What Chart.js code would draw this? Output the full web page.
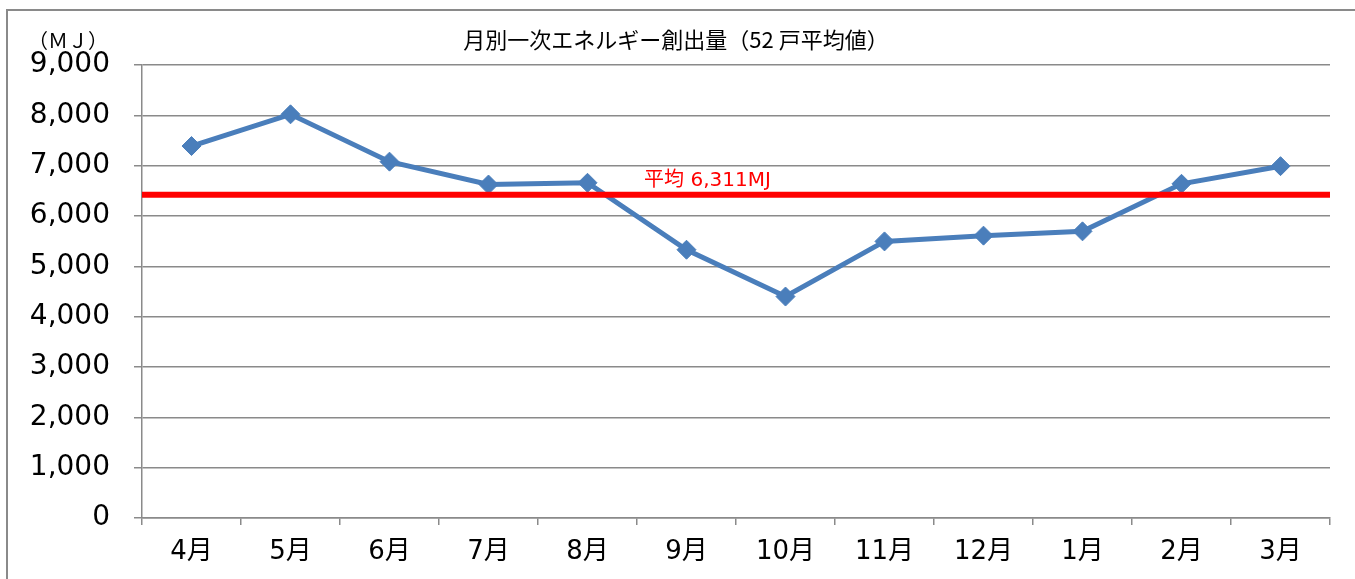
<!DOCTYPE html>
<html lang="ja">
<head>
<meta charset="utf-8">
<title>月別一次エネルギー創出量</title>
<script src="https://cdn.jsdelivr.net/npm/chart.js@4.4.1/dist/chart.umd.min.js"></script>
<style>
  html, body { margin: 0; padding: 0; background: #fff; }
  #wrap { position: relative; width: 1355px; height: 579px; }
</style>
</head>
<body>
<div id="wrap"><canvas id="energy-chart"></canvas></div>
<script>
// --- DATA ---
const months = ['4月', '5月', '6月', '7月', '8月', '9月', '10月', '11月', '12月', '1月', '2月', '3月'];
const energyValues = [7390, 8020, 7080, 6625, 6660, 5330, 4400, 5495, 5610, 5695, 6640, 6990];
const yTicks = [0, 1000, 2000, 3000, 4000, 5000, 6000, 7000, 8000, 9000];
const averageLineValue = 6420;
const averageLabel = '平均 6,311MJ';
const chartTitle = '月別一次エネルギー創出量（52 戸平均値）';
const unitLabel = '（ＭＪ）';

// --- STYLE ---
const blue = '#4A7EBB';
const gray = '#8a8a8a';
const jpFont = '"DejaVu Sans", "Noto Sans CJK JP", sans-serif';

// frame, title, unit and the average line
const decorPlugin = {
    id: 'decor',
    beforeDraw(chart) {
        const ctx = chart.ctx;
        ctx.save();
        ctx.strokeStyle = gray;
        ctx.lineWidth = 2;
        ctx.strokeRect(7, 10, 1400, 620);
        ctx.restore();
    },
    afterDatasetsDraw(chart) {
        const ctx = chart.ctx;
        const area = chart.chartArea;
        const y = chart.scales.y.getPixelForValue(averageLineValue);
        ctx.save();
        ctx.strokeStyle = '#FF0000';
        ctx.lineWidth = 6;
        ctx.beginPath();
        ctx.moveTo(area.left, y);
        ctx.lineTo(area.right, y);
        ctx.stroke();

        ctx.fillStyle = '#FF0000';
        ctx.font = '20px ' + jpFont;
        ctx.textAlign = 'center';
        ctx.textBaseline = 'middle';
        ctx.fillText(averageLabel, area.left + area.width * 0.476, y - 14);

        ctx.fillStyle = '#000';
        ctx.font = '22px "Noto Sans CJK JP", sans-serif';
        ctx.fillText(chartTitle, 676, 40);
        ctx.font = '20px "Noto Sans CJK JP", sans-serif';
        ctx.fillText(unitLabel, 68, 40);
        ctx.restore();
    }
};

const ctx = document.getElementById('energy-chart').getContext('2d');
const energyChart = new Chart(ctx, {
    type: 'line',
    data: {
        labels: months,
        datasets: [{
            data: energyValues,
            borderColor: blue,
            backgroundColor: blue,
            borderWidth: 5,
            tension: 0,
            pointStyle: 'rectRot',
            pointRadius: 9.5,
            pointHoverRadius: 9.5,
            pointBorderWidth: 1,
            pointBackgroundColor: blue,
            pointBorderColor: blue
        }]
    },
    options: {
        responsive: true,
        maintainAspectRatio: false,
        animation: false,
        layout: { padding: { top: 65, right: 25, left: 0, bottom: 0 } },
        plugins: {
            legend: { display: false },
            tooltip: { enabled: false },
            title: { display: false }
        },
        scales: {
            x: {
                offset: true,
                grid: {
                    offset: true,
                    drawOnChartArea: false,
                    drawTicks: true,
                    tickLength: 7,
                    color: gray,
                    lineWidth: 1.5
                },
                border: { color: gray, width: 1.5 },
                ticks: {
                    color: '#000',
                    font: { size: 26, family: jpFont },
                    padding: 12,
                    maxRotation: 0,
                    autoSkip: false
                },
                afterFit(scale) { scale.height = 61; }
            },
            y: {
                min: 0,
                max: 9000,
                afterBuildTicks(scale) { scale.ticks = yTicks.map(v => ({ value: v })); },
                grid: {
                    color: gray,
                    lineWidth: 1.5,
                    tickLength: 8
                },
                border: { color: gray, width: 1.5 },
                ticks: {
                    color: '#000',
                    font: { size: 28, family: jpFont },
                    padding: 24,
                    callback: v => v.toLocaleString('en-US')
                },
                afterFit(scale) { scale.width = 142; }
            }
        }
    },
    plugins: [decorPlugin]
});
</script>
</body>
</html>
